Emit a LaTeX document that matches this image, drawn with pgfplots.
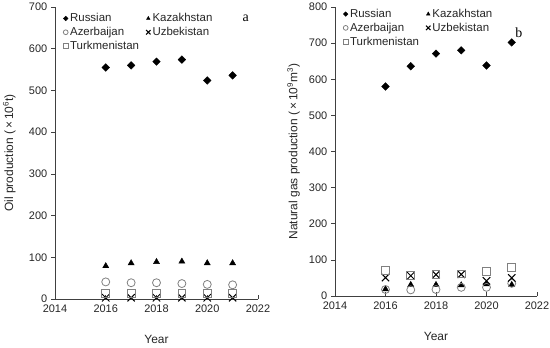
\documentclass[border=0pt]{standalone}
\usepackage{pgfplots}
\pgfplotsset{compat=1.18}
\usepackage{fontspec}
\setmainfont{Liberation Sans}
\newfontfamily\seriffont{Liberation Serif}
\definecolor{mkgray}{HTML}{808080}
\definecolor{axgray}{HTML}{404040}
\pgfplotsset{
  myaxis/.style={
    scale only axis,
    axis lines*=left,
    axis line style={axgray, line width=0.9bp},
    every tick/.style={axgray, line width=0.7bp},
    major tick length=4bp,
    xtick align=inside,
    ytick align=outside,
    xmin=2014, xmax=2022,
    xtick={2014,2016,2018,2020,2022},
    ymin=0,
    /pgf/number format/1000 sep={},
    /pgf/number format/assume math mode=true,
    tick label style={font=\fontsize{11}{13}\selectfont, text=black!85, inner sep=0.8bp},
    xticklabel style={yshift=-4.8bp},
    yticklabel style={xshift=-2.8bp},
    xlabel={Year},
    every axis x label/.style={at={(axis description cs:0.5,-0.14)}, anchor=center, font=\fontsize{12}{14}\selectfont, text=black!85},
    legend columns=2,
    legend cell align=left,
    legend style={draw=none, fill=none, font=\fontsize{11.5}{13}\selectfont, text=black!85,
      inner sep=0pt, row sep=0pt, anchor=north west,
      /tikz/every even column/.append style={column sep=0pt}},
    legend image code/.code={\draw[#1, every mark/.append style={scale=0.6}] plot coordinates {(0.12cm,0cm)};},
    clip=false,
  },
  rus/.style={only marks, mark=square*, mark size=2.7bp, mark options={rotate=45, fill=black, draw=black}},
  kaz/.style={only marks, mark=triangle*, mark size=3.5bp, mark options={fill=black, draw=black}},
  aze/.style={only marks, mark=o, mark size=4bp, mark options={draw=mkgray, line width=0.8bp}},
  uzb/.style={only marks, mark=x, mark size=5.2bp, mark options={draw=black, line width=1bp}},
  tkm/.style={only marks, mark=square, mark size=3.9bp, mark options={draw=mkgray, line width=0.8bp}},
}
\begin{document}
\begin{tikzpicture}
\useasboundingbox (0,0) rectangle (550bp,348bp);
% ---------------- Oil ----------------
\begin{axis}[myaxis,
  at={(55bp,49bp)}, anchor=south west,
  width=203bp, height=292bp,
  ymax=700, ytick={0,100,...,700},
  ylabel={Oil production (\,×\,10\textsuperscript{6}t)},
  every axis y label/.style={at={(axis description cs:-0.225,0.5)}, rotate=90, anchor=center, font=\fontsize{12}{14}\selectfont, text=black!85},
  legend style={at={(axis description cs:0.04,0.985)}},
]
\addplot[rus] coordinates {(2016,555) (2017,560) (2018,569) (2019,574) (2020,524) (2021,536)};
\addlegendentry{\makebox[74bp][l]{Russian}}
\addplot[kaz] coordinates {(2016,79) (2017,86) (2018,89) (2019,90) (2020,86) (2021,86)};
\addlegendentry{Kazakhstan}
\addplot[aze] coordinates {(2016,41) (2017,39) (2018,39) (2019,37) (2020,35) (2021,34)};
\addlegendentry{\makebox[74bp][l]{Azerbaijan}}
\addplot[uzb] coordinates {(2016,3) (2017,3) (2018,3) (2019,3) (2020,3) (2021,3)};
\addlegendentry{Uzbekistan}
\addplot[tkm] coordinates {(2016,14) (2017,14) (2018,14) (2019,14) (2020,13) (2021,13)};
\addlegendentry{Turkmenistan}
\node[font=\seriffont\fontsize{14}{16}\selectfont, anchor=center] at (rel axis cs:0.94,0.96) {a};
\end{axis}
% ---------------- Gas ----------------
\begin{axis}[myaxis,
  at={(335bp,52bp)}, anchor=south west,
  width=202bp, height=289bp,
  ymax=800, ytick={0,100,...,800},
  ylabel={Natural gas production (\,×\,10\textsuperscript{9}m\textsuperscript{3})},
  every axis y label/.style={at={(axis description cs:-0.205,0.5)}, rotate=90, anchor=center, font=\fontsize{12}{14}\selectfont, text=black!85},
  legend style={at={(axis description cs:0.04,1.0)}},
]
\addplot[rus] coordinates {(2016,580) (2017,636) (2018,671) (2019,680) (2020,638) (2021,702)};
\addlegendentry{\makebox[74bp][l]{Russian}}
\addplot[kaz] coordinates {(2016,19) (2017,31) (2018,31) (2019,30) (2020,33) (2021,31)};
\addlegendentry{Kazakhstan}
\addplot[aze] coordinates {(2016,18) (2017,17) (2018,18) (2019,24) (2020,24) (2021,35)};
\addlegendentry{\makebox[74bp][l]{Azerbaijan}}
\addplot[uzb] coordinates {(2016,51) (2017,56) (2018,59) (2019,60) (2020,42) (2021,50)};
\addlegendentry{Uzbekistan}
\addplot[tkm] coordinates {(2016,70) (2017,56) (2018,60) (2019,61) (2020,67) (2021,79)};
\addlegendentry{Turkmenistan}
\node[font=\seriffont\fontsize{14}{16}\selectfont, anchor=center] at (rel axis cs:0.91,0.91) {b};
\end{axis}
\end{tikzpicture}
\end{document}
